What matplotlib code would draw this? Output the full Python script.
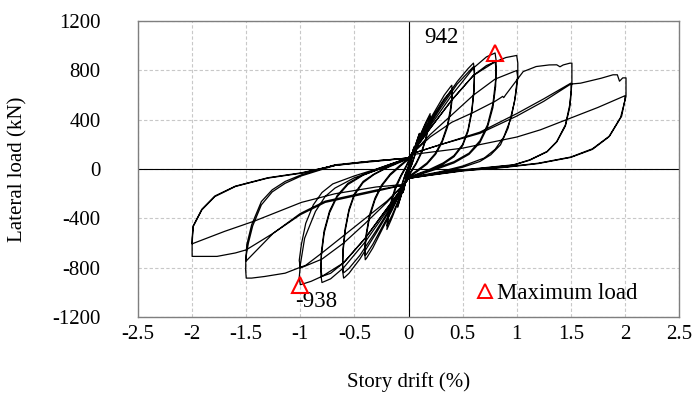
import matplotlib
matplotlib.use("Agg")
import matplotlib.pyplot as plt
from matplotlib.lines import Line2D

# ---- data: (story drift %, lateral load kN) read along the hysteresis path ----
loop_005 = [(0, 0), (0.025, 90), (0.05, 180), (0.035, 110), (0.015, 30), (0, -10), (-0.025, -95), (-0.05, -190),
            (-0.035, -120), (-0.015, -40), (0, 0), (0.025, 90), (0.05, 175), (0.035, 105), (0.015, 25), (0, -15),
            (-0.025, -100), (-0.05, -185), (-0.035, -115), (-0.015, -35), (0, 5)]
loop_010 = [(0.03, 95), (0.07, 210), (0.1, 290), (0.085, 210), (0.06, 120), (0.03, 40), (0, -20), (-0.03, -100),
            (-0.07, -220), (-0.1, -310), (-0.085, -225), (-0.06, -130), (-0.03, -45), (0, 20), (0.03, 100),
            (0.07, 210), (0.1, 285), (0.085, 205), (0.06, 115), (0.03, 35), (0, -25), (-0.03, -105), (-0.07, -220),
            (-0.1, -300), (-0.085, -215), (-0.06, -120), (-0.03, -40), (0, 25)]
loop_020 = [(0.04, 120), (0.1, 260), (0.16, 380), (0.2, 450), (0.19, 380), (0.16, 250), (0.12, 140), (0.07, 50),
            (0.02, -20), (-0.02, -90), (-0.08, -230), (-0.15, -390), (-0.2, -490), (-0.19, -410), (-0.16, -280),
            (-0.12, -160), (-0.07, -60), (-0.02, 20), (0.02, 90), (0.08, 220), (0.15, 350), (0.2, 430),
            (0.19, 360), (0.16, 240), (0.12, 130), (0.07, 40), (0.02, -30), (-0.02, -95), (-0.08, -225),
            (-0.15, -370), (-0.2, -460), (-0.19, -390), (-0.16, -260), (-0.12, -140), (-0.07, -50), (-0.02, 30),
            (0, 70)]
loop_040 = [(0.05, 140), (0.15, 330), (0.25, 480), (0.33, 600), (0.39, 670), (0.4, 680), (0.405, 620), (0.39, 500),
            (0.36, 360), (0.31, 230), (0.25, 130), (0.17, 50), (0.08, -10), (0, -60), (-0.05, -140),
            (-0.15, -330), (-0.25, -500), (-0.33, -640), (-0.39, -725), (-0.4, -735), (-0.405, -670),
            (-0.39, -540), (-0.36, -390), (-0.31, -250), (-0.25, -140), (-0.17, -50), (-0.08, 20), (0, 80),
            (0.05, 150), (0.15, 320), (0.25, 460), (0.33, 570), (0.39, 632), (0.4, 640), (0.405, 580),
            (0.39, 470), (0.36, 340), (0.31, 215), (0.25, 120), (0.17, 40), (0.08, -20), (0, -70),
            (-0.05, -140), (-0.15, -320), (-0.25, -480), (-0.33, -610), (-0.39, -692), (-0.4, -700),
            (-0.405, -640), (-0.39, -520), (-0.36, -370), (-0.31, -235), (-0.25, -130), (-0.17, -40),
            (-0.08, 30), (0, 85)]
loop_060 = [(0.05, 150), (0.15, 310), (0.3, 520), (0.45, 710), (0.55, 815), (0.59, 852), (0.6, 860), (0.61, 800),
            (0.605, 650), (0.585, 480), (0.55, 320), (0.5, 200), (0.42, 110), (0.32, 50), (0.2, 0), (0.08, -40),
            (0, -70), (-0.05, -140), (-0.15, -300), (-0.3, -520), (-0.45, -730), (-0.55, -845), (-0.59, -878),
            (-0.6, -884), (-0.61, -820), (-0.605, -670), (-0.585, -500), (-0.55, -340), (-0.5, -210),
            (-0.42, -110), (-0.32, -45), (-0.2, 10), (-0.08, 55), (0, 85),
            (0.05, 150), (0.15, 300), (0.3, 500), (0.45, 690), (0.55, 785), (0.59, 822), (0.6, 830), (0.61, 770),
            (0.605, 630), (0.585, 460), (0.55, 305), (0.5, 190), (0.42, 100), (0.32, 40), (0.2, -10),
            (0.08, -45), (0, -75), (-0.05, -140), (-0.15, -290), (-0.3, -500), (-0.45, -700), (-0.55, -805),
            (-0.59, -835), (-0.6, -840), (-0.61, -780), (-0.605, -640), (-0.585, -480), (-0.55, -325),
            (-0.5, -200), (-0.42, -100), (-0.32, -40), (-0.2, 15), (-0.08, 60), (0, 90)]
loop_080 = [(0.05, 150), (0.2, 350), (0.4, 600), (0.6, 820), (0.72, 910), (0.8, 942), (0.81, 880), (0.805, 720),
            (0.78, 530), (0.73, 360), (0.66, 230), (0.56, 130), (0.42, 60), (0.26, 10), (0.1, -40), (0, -70),
            (-0.05, -140), (-0.2, -340), (-0.4, -590), (-0.6, -800), (-0.72, -890), (-0.8, -920),
            (-0.81, -860), (-0.805, -700), (-0.78, -520), (-0.73, -355), (-0.66, -225), (-0.56, -125),
            (-0.42, -50), (-0.26, 5), (-0.1, 55), (0, 90),
            (0.05, 150), (0.2, 330), (0.4, 560), (0.6, 760), (0.72, 840), (0.8, 870), (0.81, 810),
            (0.805, 670), (0.78, 500), (0.73, 340), (0.66, 215), (0.56, 120), (0.42, 50), (0.26, 0),
            (0.1, -45), (0, -75), (-0.05, -140), (-0.2, -320), (-0.4, -560), (-0.6, -760), (-0.72, -845),
            (-0.8, -870), (-0.81, -810), (-0.805, -670), (-0.78, -500), (-0.73, -340), (-0.66, -215),
            (-0.56, -115), (-0.42, -45), (-0.26, 10), (-0.1, 60), (0, 90)]
loop_100 = [(0.05, 150), (0.2, 330), (0.4, 560), (0.6, 760), (0.8, 870), (0.9, 905), (1.0, 922), (1.01, 860),
            (1.01, 764), (0.98, 548), (0.92, 332), (0.85, 197), (0.76, 116), (0.66, 62), (0.5, 15), (0.3, -25),
            (0.12, -55), (0, -75), (-0.05, -140), (-0.2, -320), (-0.4, -560), (-0.6, -760), (-0.8, -870),
            (-0.9, -910), (-0.97, -930), (-1.0, -938), (-1.01, -880), (-1.0, -776), (-0.96, -560), (-0.86, -343),
            (-0.77, -222), (-0.68, -154), (-0.5, -70), (-0.3, -10), (-0.12, 50), (0, 90),
            (0.05, 140), (0.2, 280), (0.4, 440), (0.6, 600), (0.8, 730), (0.97, 790), (1.0, 800), (1.01, 740),
            (0.99, 600), (0.95, 420), (0.88, 260), (0.8, 160), (0.7, 90), (0.5, 25), (0.3, -20), (0.12, -50),
            (0, -75), (-0.05, -130), (-0.2, -270), (-0.4, -440), (-0.6, -600), (-0.8, -730), (-0.97, -792),
            (-1.0, -800), (-1.01, -740), (-0.99, -610), (-0.95, -440), (-0.88, -290), (-0.8, -190), (-0.7, -120),
            (-0.5, -55), (-0.3, 0), (-0.12, 55), (0, 90)]
loop_150 = [(0.05, 140), (0.2, 260), (0.4, 380), (0.6, 460), (0.8, 550), (0.845, 575), (0.87, 590), (0.88, 580),
            (0.9, 605), (0.99, 710), (1.06, 791), (1.18, 832), (1.3, 845), (1.37, 846), (1.4, 830), (1.43, 845),
            (1.49, 859), (1.51, 860), (1.51, 780), (1.51, 697), (1.49, 521), (1.45, 359), (1.37, 224),
            (1.28, 143), (1.12, 75), (0.97, 35), (0.66, 8), (0.4, -15), (0.15, -50), (0, -75),
            (-0.05, -130), (-0.2, -260), (-0.4, -400), (-0.6, -540), (-0.8, -680), (-0.95, -780),
            (-1.02, -803), (-1.14, -844), (-1.33, -871), (-1.45, -884), (-1.5, -884), (-1.505, -820),
            (-1.504, -749), (-1.495, -614), (-1.45, -452), (-1.36, -263), (-1.26, -168), (-1.14, -100),
            (-0.99, -46), (-0.68, 35), (-0.4, 60), (0, 90),
            (0.05, 130), (0.3, 200), (0.66, 300), (1.0, 450), (1.25, 570), (1.5, 697), (1.505, 640),
            (1.49, 500), (1.45, 350), (1.37, 220), (1.28, 140), (1.12, 72), (0.97, 32), (0.66, 5), (0.4, -18),
            (0.15, -50), (0, -75), (-0.05, -130), (-0.3, -170), (-0.77, -260), (-1.0, -360), (-1.25, -520),
            (-1.5, -745), (-1.5, -700), (-1.48, -600), (-1.44, -460), (-1.36, -290), (-1.26, -185),
            (-1.14, -115), (-0.99, -55), (-0.68, 30), (-0.4, 60), (0, 90)]
loop_200 = [(0.05, 130), (0.3, 200), (0.66, 290), (1.0, 430), (1.25, 550), (1.5, 690), (1.59, 697), (1.78, 737),
            (1.89, 765), (1.93, 765), (1.95, 713), (1.98, 740), (2.01, 740), (2.01, 660), (2.01, 590),
            (1.96, 420), (1.85, 260), (1.7, 160), (1.5, 95), (1.2, 45), (0.9, 15), (0.5, -15), (0.2, -50),
            (0, -75), (-0.05, -130), (-0.3, -180), (-0.77, -270), (-1.0, -370), (-1.25, -520), (-1.5, -655),
            (-1.6, -680), (-1.77, -708), (-2.0, -708), (-2.0, -650), (-2.0, -600), (-1.99, -466),
            (-1.91, -331), (-1.79, -223), (-1.6, -141), (-1.3, -73), (-0.99, -33), (-0.68, 30), (-0.4, 55),
            (0, 90),
            (0.05, 120), (0.5, 170), (1.0, 260), (1.22, 319), (1.52, 422), (1.75, 500), (2.0, 595),
            (2.0, 560), (1.97, 430), (1.86, 270), (1.7, 165), (1.5, 98), (1.2, 48), (0.9, 18), (0.5, -12),
            (0.2, -48), (0, -75), (-0.05, -125), (-0.3, -145), (-0.68, -200), (-0.99, -270), (-1.42, -420),
            (-1.7, -505), (-2.0, -606), (-2.0, -560), (-1.99, -460), (-1.91, -325), (-1.79, -218),
            (-1.6, -138), (-1.3, -70), (-0.99, -30), (-0.68, 30)]

max_drift = [0.8, -1.0]
max_load = [942, -938]
max_labels = ["942", "-938"]

x_ticks = [-2.5, -2, -1.5, -1, -0.5, 0, 0.5, 1, 1.5, 2, 2.5]
y_ticks = [-1200, -800, -400, 0, 400, 800, 1200]

plt.rcParams['font.family'] = ['Liberation Serif', 'DejaVu Serif']
FS = 15
FS_NOTE = 16.5

fig = plt.figure(figsize=(6.95, 4.07), dpi=100)
ax = fig.add_axes([0.1986, 0.221, 0.7784, 0.727])

path = loop_005 + loop_010 + loop_020 + loop_040 + loop_060 + loop_080 + loop_100 + loop_150 + loop_200
ax.plot([p[0] for p in path], [p[1] for p in path], color='black', lw=0.9, zorder=3)

ax.plot(max_drift, max_load, linestyle='none', marker='^', markersize=12, markerfacecolor='none',
        markeredgecolor='red', markeredgewidth=1.5, zorder=4)
ax.text(0.3, 1070, max_labels[0], fontsize=FS_NOTE, ha='center', va='center')
ax.text(-0.85, -1076, max_labels[1], fontsize=FS_NOTE, ha='center', va='center')

ax.axhline(0, color='black', lw=0.8, zorder=2)
ax.axvline(0, color='black', lw=0.8, zorder=2)

ax.set_xlim(-2.5, 2.5)
ax.set_ylim(-1200, 1200)
ax.set_xticks(x_ticks)
ax.set_xticklabels([f"{t:g}" for t in x_ticks])
ax.set_yticks(y_ticks)
ax.set_yticklabels([f"{t:g}" for t in y_ticks])
ax.tick_params(axis='both', length=0, labelsize=FS)
ax.tick_params(axis='x', pad=6)
ax.tick_params(axis='y', pad=27)
ax.grid(True, color='#c8c8c8', lw=0.8, linestyle=(0, (3, 2)), zorder=0)
for s in ax.spines.values():
    s.set_color('#7f7f7f')
    s.set_linewidth(1.0)

ax.set_xlabel('Story drift (%)', fontsize=FS)
ax.set_ylabel('Lateral load (kN)', fontsize=FS)
ax.xaxis.set_label_coords(0.5, -0.186)
ax.yaxis.set_label_coords(-0.205, 0.5)

handle = Line2D([], [], linestyle='none', marker='^', markersize=10, markerfacecolor='none',
                markeredgecolor='red', markeredgewidth=1.4)
ax.legend([handle], ['Maximum load'], loc='center left', bbox_to_anchor=(0.625, 0.081), frameon=False,
          fontsize=FS_NOTE, handlelength=0.8, handletextpad=0.1, borderpad=0, borderaxespad=0)

fig.savefig('out.png', dpi=100)
